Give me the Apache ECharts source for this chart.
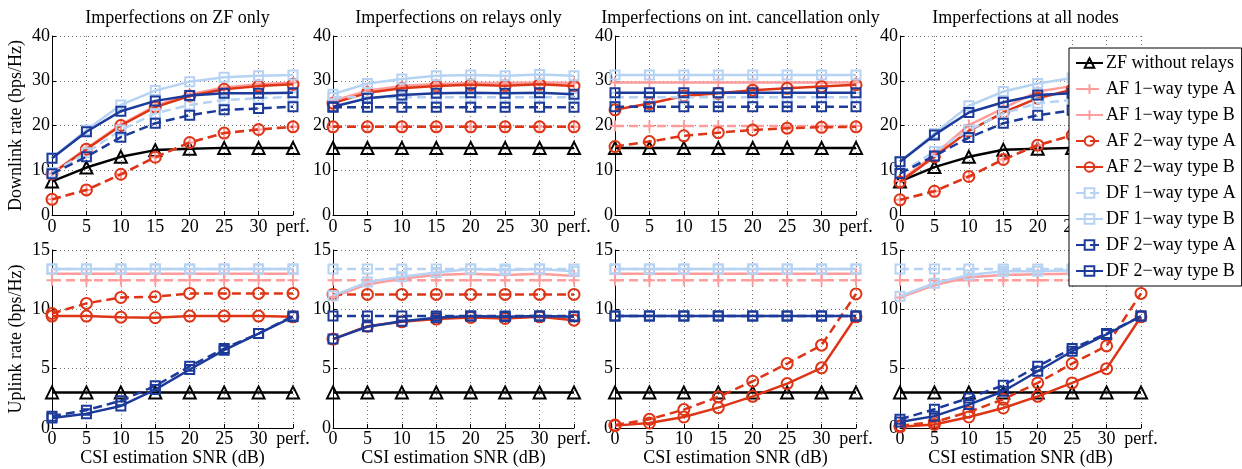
<!DOCTYPE html>
<html>
<head>
<meta charset="utf-8">
<script src="https://cdn.jsdelivr.net/npm/echarts@6/dist/echarts.min.js"></script>
<style>
  html, body { margin: 0; padding: 0; background: #fff; }
  #chart { width: 1242px; height: 469px; }
</style>
</head>
<body>
<div id="chart"></div>
<script>
// x categories (CSI estimation SNR in dB, last one = perfect CSI)
const snrCats = ['0', '5', '10', '15', '20', '25', '30', 'perf.'];
const panelTitles = [
  'Imperfections on ZF only',
  'Imperfections on relays only',
  'Imperfections on int. cancellation only',
  'Imperfections at all nodes'
];
const seriesNames = [
  'ZF without relays',
  'AF 1\u2212way type A',
  'AF 1\u2212way type B',
  'AF 2\u2212way type A',
  'AF 2\u2212way type B',
  'DF 1\u2212way type A',
  'DF 1\u2212way type B',
  'DF 2\u2212way type A',
  'DF 2\u2212way type B'
];

// downlink rate (bps/Hz), one row per panel
const dlZF = [
  [7.5, 10.6, 13.0, 14.5, 14.8, 15.0, 15.0, 15.0],
  [15, 15, 15, 15, 15, 15, 15, 15],
  [15, 15, 15, 15, 15, 15, 15, 15],
  [7.5, 10.7, 13.0, 14.6, 14.8, 15.0, 15.0, 15.0]
];
const dlAF1A = [
  [3.5, 5.6, 9.1, 12.9, 16.2, 18.3, 19.1, 19.7],
  [19.7, 19.7, 19.7, 19.7, 19.7, 19.7, 19.7, 19.7],
  [19.9, 19.9, 19.9, 19.9, 19.9, 19.9, 19.9, 19.9],
  [3.4, 5.3, 8.6, 12.4, 15.6, 17.8, 19.0, 19.7]
];
const dlAF1B = [
  [9.3, 14.9, 20.2, 24.4, 27.0, 28.5, 29.2, 29.6],
  [25.5, 27.8, 28.8, 29.3, 29.5, 29.5, 29.6, 29.5],
  [29.6, 29.6, 29.6, 29.6, 29.6, 29.6, 29.6, 29.6],
  [7.6, 13.5, 20.1, 23.8, 27.6, 28.8, 29.4, 29.6]
];
const dlAF2A = [
  [3.5, 5.6, 9.1, 12.9, 16.2, 18.3, 19.1, 19.7],
  [19.7, 19.7, 19.7, 19.7, 19.7, 19.7, 19.7, 19.7],
  [15.3, 16.4, 17.7, 18.4, 19.0, 19.4, 19.6, 19.7],
  [3.4, 5.3, 8.6, 12.4, 15.6, 17.8, 19.0, 19.7]
];
const dlAF2B = [
  [9.2, 14.7, 20.0, 24.1, 26.6, 28.1, 28.8, 29.2],
  [25.0, 27.3, 28.3, 28.8, 29.1, 28.9, 29.2, 28.8],
  [23.5, 24.9, 26.6, 27.2, 27.9, 28.3, 28.7, 29.1],
  [7.4, 13.0, 18.8, 22.9, 26.1, 28.0, 28.8, 29.2]
];
const dlDF1A = [
  [9.5, 13.9, 19.0, 22.7, 24.6, 25.7, 26.1, 26.4],
  [26.3, 26.3, 26.3, 26.3, 26.3, 26.3, 26.3, 26.3],
  [26.3, 26.3, 26.3, 26.3, 26.3, 26.3, 26.3, 26.3],
  [9.3, 14.2, 19.0, 22.7, 25.0, 25.7, 26.1, 26.3]
];
const dlDF1B = [
  [12.7, 19.0, 24.6, 27.8, 29.8, 30.8, 31.1, 31.3],
  [27.0, 29.4, 30.4, 31.1, 31.3, 31.1, 31.4, 31.1],
  [31.3, 31.3, 31.3, 31.3, 31.3, 31.3, 31.3, 31.3],
  [11.9, 18.2, 24.4, 27.6, 29.4, 30.6, 31.0, 31.3]
];
const dlDF2A = [
  [9.2, 13.0, 17.4, 20.5, 22.3, 23.5, 23.8, 24.2],
  [24.1, 24.1, 24.1, 24.1, 24.1, 24.1, 24.1, 24.1],
  [24.2, 24.2, 24.2, 24.2, 24.2, 24.2, 24.2, 24.2],
  [9.3, 13.2, 17.3, 20.5, 22.3, 23.4, 23.9, 24.2]
];
const dlDF2B = [
  [12.7, 18.6, 23.2, 25.5, 26.7, 27.2, 27.2, 27.3],
  [24.2, 26.1, 26.8, 27.2, 27.3, 27.2, 27.3, 27.0],
  [27.3, 27.3, 27.3, 27.3, 27.3, 27.3, 27.3, 27.3],
  [11.9, 17.9, 22.9, 25.2, 26.8, 27.2, 27.3, 27.3]
];

// uplink rate (bps/Hz), one row per panel
const ulZF = [
  [3.0, 3.0, 3.0, 3.0, 3.0, 3.0, 3.0, 3.0],
  [3.0, 3.0, 3.0, 3.0, 3.0, 3.0, 3.0, 3.0],
  [3.0, 3.0, 3.0, 3.0, 3.0, 3.0, 3.0, 3.0],
  [3.0, 3.0, 3.0, 3.0, 3.0, 3.0, 3.0, 3.0]
];
const ulAF1A = [
  [12.45, 12.45, 12.45, 12.45, 12.45, 12.45, 12.45, 12.45],
  [12.45, 12.45, 12.45, 12.45, 12.45, 12.45, 12.45, 12.45],
  [12.45, 12.45, 12.45, 12.45, 12.45, 12.45, 12.45, 12.45],
  [12.45, 12.45, 12.45, 12.45, 12.45, 12.45, 12.45, 12.45]
];
const ulAF1B = [
  [13.0, 13.0, 13.0, 13.0, 13.0, 13.0, 13.0, 13.0],
  [11.05, 12.1, 12.6, 12.9, 13.0, 12.9, 13.0, 12.8],
  [13.0, 13.0, 13.0, 13.0, 13.0, 13.0, 13.0, 13.0],
  [11.0, 12.05, 12.7, 12.9, 12.95, 13.0, 13.0, 13.0]
];
const ulAF2A = [
  [9.65, 10.5, 11.0, 11.06, 11.34, 11.34, 11.34, 11.34],
  [11.26, 11.26, 11.26, 11.26, 11.26, 11.26, 11.26, 11.26],
  [0.25, 0.73, 1.55, 2.62, 3.94, 5.43, 6.98, 11.3],
  [0.2, 0.5, 1.35, 2.42, 3.8, 5.43, 6.92, 11.34]
];
const ulAF2B = [
  [9.43, 9.43, 9.34, 9.29, 9.43, 9.43, 9.43, 9.37],
  [7.49, 8.58, 8.95, 9.18, 9.32, 9.23, 9.37, 9.09],
  [0.2, 0.42, 0.93, 1.72, 2.67, 3.74, 5.07, 9.37],
  [0.1, 0.3, 0.93, 1.69, 2.67, 3.8, 5.0, 9.37]
];
const ulDF1A = [
  [13.4, 13.4, 13.4, 13.4, 13.4, 13.4, 13.4, 13.4],
  [13.4, 13.4, 13.4, 13.4, 13.4, 13.4, 13.4, 13.4],
  [13.4, 13.4, 13.4, 13.4, 13.4, 13.4, 13.4, 13.4],
  [13.4, 13.4, 13.4, 13.4, 13.4, 13.4, 13.4, 13.4]
];
const ulDF1B = [
  [13.4, 13.4, 13.4, 13.4, 13.4, 13.4, 13.4, 13.4],
  [11.15, 12.3, 12.75, 13.1, 13.4, 13.3, 13.4, 13.2],
  [13.4, 13.4, 13.4, 13.4, 13.4, 13.4, 13.4, 13.4],
  [11.1, 12.2, 12.9, 13.2, 13.2, 13.3, 13.4, 13.4]
];
const ulDF2A = [
  [1.0, 1.5, 2.3, 3.55, 5.2, 6.7, 7.96, 9.43],
  [9.43, 9.43, 9.43, 9.43, 9.43, 9.43, 9.43, 9.43],
  [9.43, 9.43, 9.43, 9.43, 9.43, 9.43, 9.43, 9.43],
  [0.73, 1.58, 2.53, 3.6, 5.2, 6.7, 7.96, 9.43]
];
const ulDF2B = [
  [0.84, 1.21, 1.86, 3.24, 4.93, 6.56, 7.96, 9.37],
  [7.49, 8.53, 9.0, 9.29, 9.43, 9.37, 9.43, 9.37],
  [9.43, 9.43, 9.43, 9.43, 9.43, 9.43, 9.43, 9.43],
  [0.5, 1.0, 1.97, 3.1, 4.78, 6.47, 7.88, 9.43]
];

const downlink = [dlZF, dlAF1A, dlAF1B, dlAF2A, dlAF2B, dlDF1A, dlDF1B, dlDF2A, dlDF2B];
const uplink = [ulZF, ulAF1A, ulAF1B, ulAF2A, ulAF2B, ulDF1A, ulDF1B, ulDF2A, ulDF2B];

const FONT = '"Liberation Serif", "DejaVu Serif", serif';
const plusPath = 'path://M5,0L5,10M0,5L10,5';
const dash = [9, 5];
const PINK = '#ff9c9c';
const RED = '#de3517';
const LBLUE = '#b6d3f4';
const DBLUE = '#1c3a9a';

const looks = [
  { color: '#000', type: 'solid', symbol: 'triangle', size: 12 },
  { color: PINK, type: dash, symbol: plusPath, size: 11 },
  { color: PINK, type: 'solid', symbol: plusPath, size: 11 },
  { color: RED, type: dash, symbol: 'circle', size: 11 },
  { color: RED, type: 'solid', symbol: 'circle', size: 11 },
  { color: LBLUE, type: dash, symbol: 'rect', size: 9 },
  { color: LBLUE, type: 'solid', symbol: 'rect', size: 9 },
  { color: DBLUE, type: dash, symbol: 'rect', size: 9 },
  { color: DBLUE, type: 'solid', symbol: 'rect', size: 9 }
];

const lefts = [52, 333, 615, 900];
const W = 241;

const grids = [];
const xAxes = [];
const yAxes = [];
const series = [];

const gridLine = { show: true, lineStyle: { type: [1, 3], color: '#777', width: 1 } };
const axisLabelBase = { color: '#000', fontFamily: FONT, fontSize: 18 };

for (let r = 0; r < 2; r++) {
  for (let p = 0; p < 4; p++) {
    const gi = r * 4 + p;
    grids.push({
      left: lefts[p], width: W,
      top: r === 0 ? 36 : 250,
      height: r === 0 ? 179 : 178
    });
    xAxes.push({
      type: 'category', gridIndex: gi, data: snrCats, boundaryGap: false,
      axisLine: { lineStyle: { color: '#000', width: 1 } },
      axisTick: { inside: true, length: 4, lineStyle: { color: '#000' } },
      axisLabel: Object.assign({ interval: 0, margin: r === 0 ? 3 : 2 }, axisLabelBase),
      splitLine: gridLine,
      name: r === 1 ? 'CSI estimation SNR (dB)' : '',
      nameLocation: 'middle', nameGap: 20,
      nameTextStyle: { color: '#000', fontFamily: FONT, fontSize: 18 }
    });
    yAxes.push({
      type: 'value', gridIndex: gi,
      min: 0, max: r === 0 ? 40 : 15, interval: r === 0 ? 10 : 5,
      axisLine: { show: true, lineStyle: { color: '#000', width: 1 } },
      axisTick: { show: true, inside: true, length: 4, lineStyle: { color: '#000' } },
      axisLabel: Object.assign({ margin: 2 }, axisLabelBase),
      splitLine: gridLine,
      name: p === 0 ? (r === 0 ? 'Downlink rate (bps/Hz)' : 'Uplink rate (bps/Hz)') : '',
      nameLocation: 'middle', nameGap: 27,
      nameTextStyle: { color: '#000', fontFamily: FONT, fontSize: 18 }
    });
    const block = r === 0 ? downlink : uplink;
    block.forEach((arr, s) => {
      const lk = looks[s];
      series.push({
        name: seriesNames[s],
        type: 'line',
        xAxisIndex: gi, yAxisIndex: gi,
        data: arr[p],
        symbol: lk.symbol,
        symbolSize: lk.size,
        showAllSymbol: true,
        lineStyle: { color: lk.color, width: 2.5, type: lk.type },
        itemStyle: { color: 'rgba(0,0,0,0)', borderColor: lk.color, borderWidth: 2 },
        emphasis: { disabled: true },
        z: 2 + s * 0.01
      });
    });
  }
}

const titles = panelTitles.map((t, i) => ({
  text: t,
  left: lefts[i] + W / 2,
  top: 4,
  textAlign: 'center',
  textStyle: { fontFamily: FONT, fontSize: 18, fontWeight: 'normal', color: '#000' }
}));

const chart = echarts.init(document.getElementById('chart'));
chart.setOption({
  animation: false,
  backgroundColor: '#fff',
  title: titles,
  legend: {
    data: seriesNames,
    orient: 'vertical',
    left: 1069, top: 48,
    padding: [6, 6, 6, 6],
    itemWidth: 27, itemHeight: 12, itemGap: 8,
    backgroundColor: '#fff',
    borderColor: '#000', borderWidth: 1,
    z: 20,
    selectedMode: false,
    textStyle: { fontFamily: FONT, fontSize: 18, color: '#000', padding: [0, 0, 0, -2] }
  },
  grid: grids,
  xAxis: xAxes,
  yAxis: yAxes,
  series: series
});
</script>
</body>
</html>
